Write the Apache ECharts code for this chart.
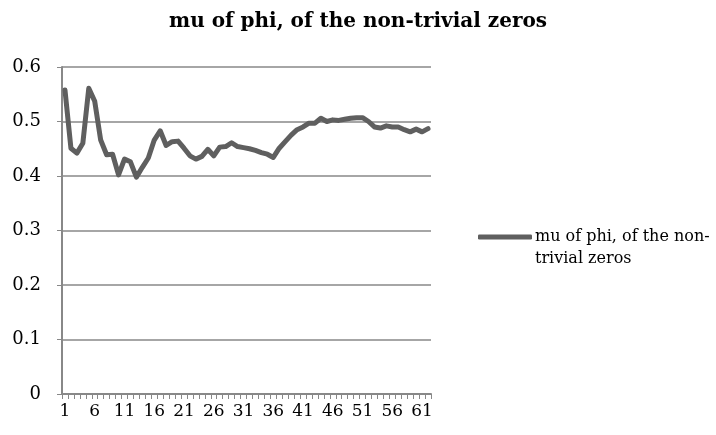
<!DOCTYPE html>
<html>
<head>
<meta charset="utf-8">
<script src="https://cdn.jsdelivr.net/npm/echarts@6/dist/echarts.min.js"></script>
<style>html,body{margin:0;padding:0;background:#fff;}#c{width:716px;height:435px;}</style>
</head>
<body>
<div id="c"></div>
<script>
var titleText = "mu of phi, of the non-trivial zeros";
var seriesName = "mu of phi, of the non-trivial zeros";
var legendLines = ["mu of phi, of the non-", "trivial zeros"];
var categories = [];
for (var i = 1; i <= 62; i++) categories.push(String(i));
var values = [
  0.558, 0.451, 0.442, 0.460, 0.561, 0.537, 0.466, 0.439, 0.440, 0.402,
  0.431, 0.426, 0.398, 0.416, 0.433, 0.466, 0.483, 0.456, 0.463, 0.464,
  0.451, 0.437, 0.431, 0.436, 0.449, 0.437, 0.453, 0.454, 0.461, 0.454,
  0.452, 0.450, 0.447, 0.443, 0.440, 0.434, 0.451, 0.463, 0.475, 0.485,
  0.490, 0.497, 0.497, 0.506, 0.500, 0.503, 0.502, 0.504, 0.506, 0.507,
  0.507, 0.500, 0.490, 0.488, 0.492, 0.490, 0.490, 0.485, 0.481, 0.486,
  0.481, 0.487
];
var yTicks = [0, 0.1, 0.2, 0.3, 0.4, 0.5, 0.6];

var font = "'DejaVu Serif', 'Liberation Serif', serif";
var chart = echarts.init(document.getElementById('c'), null, {renderer: 'canvas'});
chart.setOption({
  animation: false,
  backgroundColor: '#ffffff',
  title: {
    text: titleText,
    left: 'center',
    top: 7,
    textStyle: {fontFamily: font, fontWeight: 'bold', fontSize: 20, color: '#000'}
  },
  legend: {
    data: [seriesName],
    left: 473,
    top: 199,
    orient: 'vertical',
    itemWidth: 54,
    itemHeight: 5,
    itemGap: 0,
    icon: 'roundRect',
    formatter: function () { return ' \n' + legendLines.join('\n'); },
    textStyle: {fontFamily: font, fontSize: 16, color: '#000', lineHeight: 22, padding: [0, 0, 0, -2]}
  },
  grid: {left: 62, right: 285, top: 67, bottom: 41, containLabel: false},
  xAxis: {
    type: 'category',
    data: categories,
    boundaryGap: true,
    axisLine: {show: true, lineStyle: {color: '#888', width: 2}},
    axisTick: {show: true, interval: 0, length: 5, lineStyle: {color: '#888', width: 1}},
    axisLabel: {interval: 4, margin: 9, fontFamily: font, fontSize: 17, color: '#000'},
    splitLine: {show: false}
  },
  yAxis: {
    type: 'value',
    min: 0,
    max: 0.6,
    interval: 0.1,
    axisLine: {show: true, lineStyle: {color: '#888', width: 2}},
    axisTick: {show: true, length: 5, lineStyle: {color: '#888', width: 1}},
    axisLabel: {margin: 21, fontFamily: font, fontSize: 18, color: '#000',
      formatter: function (v) { var r = Math.round(v * 10) / 10; return yTicks.indexOf(r) >= 0 ? String(r) : ''; }},
    splitLine: {show: true, lineStyle: {color: '#888', width: 1.5}}
  },
  series: [{
    name: seriesName,
    type: 'line',
    data: values,
    symbol: 'none',
    smooth: false,
    lineStyle: {color: '#5f5f5f', width: 5, cap: 'round', join: 'round'},
    itemStyle: {color: '#5f5f5f'}
  }]
});
</script>
</body>
</html>
